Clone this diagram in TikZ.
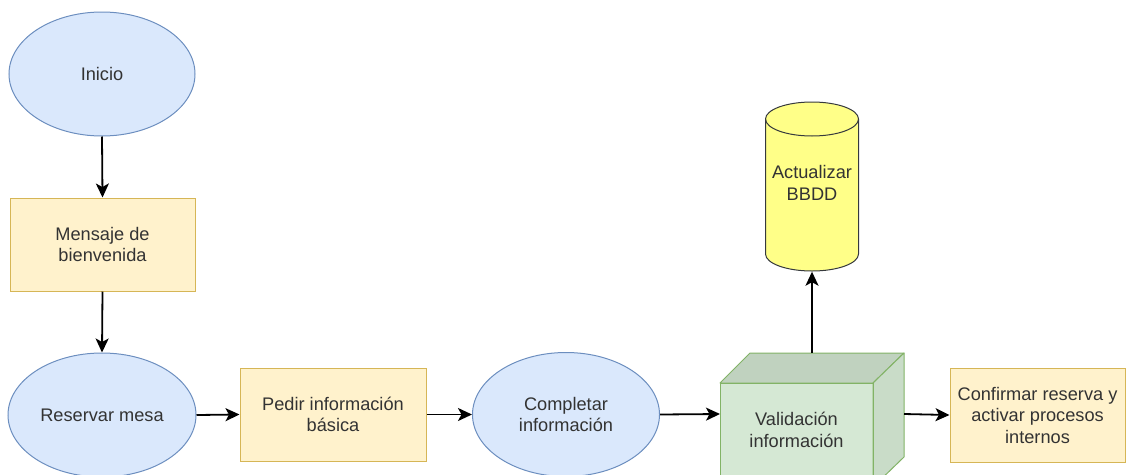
\documentclass[tikz,border=0pt]{standalone}
\usepackage{fontspec}
\setmainfont{Liberation Sans}
\usetikzlibrary{shapes.geometric,arrows.meta}
\definecolor{txt}{HTML}{333333}
\definecolor{bluefill}{HTML}{DAE8FC}
\definecolor{bluedraw}{HTML}{6C8EBF}
\definecolor{yelfill}{HTML}{FFF2CC}
\definecolor{yeldraw}{HTML}{D6B656}
\definecolor{grnfill}{HTML}{D5E8D4}
\definecolor{grntop}{HTML}{C0D2BF}
\definecolor{grnside}{HTML}{C9DCC8}
\definecolor{grndraw}{HTML}{82B366}
\definecolor{dbfill}{HTML}{FFFF88}
\definecolor{dbdraw}{HTML}{36393D}
\tikzset{
  lbl/.style={text=txt, font=\fontsize{18.2}{21.5}\selectfont, align=center},
  oval/.style={lbl, ellipse, draw=bluedraw, fill=bluefill, line width=1pt, inner sep=0pt},
  procbox/.style={lbl, rectangle, draw=yeldraw, fill=yelfill, line width=1pt, inner sep=0pt},
  flow/.style={draw=black, line width=1.8pt, -{Stealth[length=14pt,width=13pt,inset=3.5pt]}},
}
\begin{document}
\begin{tikzpicture}[x=1pt,y=-1pt]
\useasboundingbox (0,0) rectangle (1126,474);
\begin{scope}
\clip (0,0) rectangle (1126,474);

% start / process shapes
\node[oval, minimum width=186, minimum height=124] (inicio) at (102,74) {Inicio};
\node[procbox, minimum width=185, minimum height=93] (mensaje) at (102.5,244.5) {Mensaje de\\bienvenida};
\node[oval, minimum width=188, minimum height=124] (reservar) at (102,415) {Reservar mesa};
\node[procbox, minimum width=186, minimum height=93] (pedir) at (333,414.5) {Pedir información\\básica};
\node[oval, minimum width=187, minimum height=124] (completar) at (566,414.5) {Completar\\información};
\node[procbox, minimum width=175, minimum height=94] (confirmar) at (1037.5,415) {Confirmar reserva y\\activar procesos\\internos};

% validation cube: front face, top face, right face
\fill[grnfill] (720,383) rectangle (873,487);
\filldraw[fill=grntop, draw=grndraw, line width=1pt, line join=round]
  (720,383) -- (750,353) -- (904,353) -- (873,383) -- cycle;
\filldraw[fill=grnside, draw=grndraw, line width=1pt, line join=round]
  (873,383) -- (904,353) -- (904,457) -- (873,487) -- cycle;
\draw[grndraw, line width=1pt] (720,383) rectangle (873,487);
\node[lbl, minimum width=153, minimum height=94, inner sep=0pt] (valid) at (796.5,430) {Validación\\información};
\coordinate (cubetop) at (812,353);
\coordinate (cuberight) at (904,414);
\coordinate (cubeleft) at (720,414);

% database cylinder
\filldraw[fill=dbfill, draw=dbdraw, line width=1pt]
  (765.5,119) -- (765.5,254) arc[start angle=180, end angle=0, x radius=46.5, y radius=17]
  -- (858.5,119) arc[start angle=0, end angle=-180, x radius=46.5, y radius=17] -- cycle;
\draw[dbdraw, line width=1pt] (765.5,119) arc[start angle=180, end angle=0, x radius=46.5, y radius=17];
\node[lbl, minimum width=93, minimum height=170, inner sep=0pt] (bbdd) at (812,186.5) {};
\node[lbl] (bbddtxt) at (812,183) {Actualizar\\BBDD};

% connectors
\draw[flow] (inicio.south) -- (mensaje.north);
\draw[flow] (mensaje.south) -- (reservar.north);
\draw[flow] (reservar.east) -- (pedir.west);
\draw[flow] (pedir.east) -- (completar.west);
\draw[flow] (completar.east) -- (cubeleft);
\draw[flow] (cubetop) -- (bbdd.south);
\draw[flow] (cuberight) -- (confirmar.west);
\end{scope}
\end{tikzpicture}
\end{document}
